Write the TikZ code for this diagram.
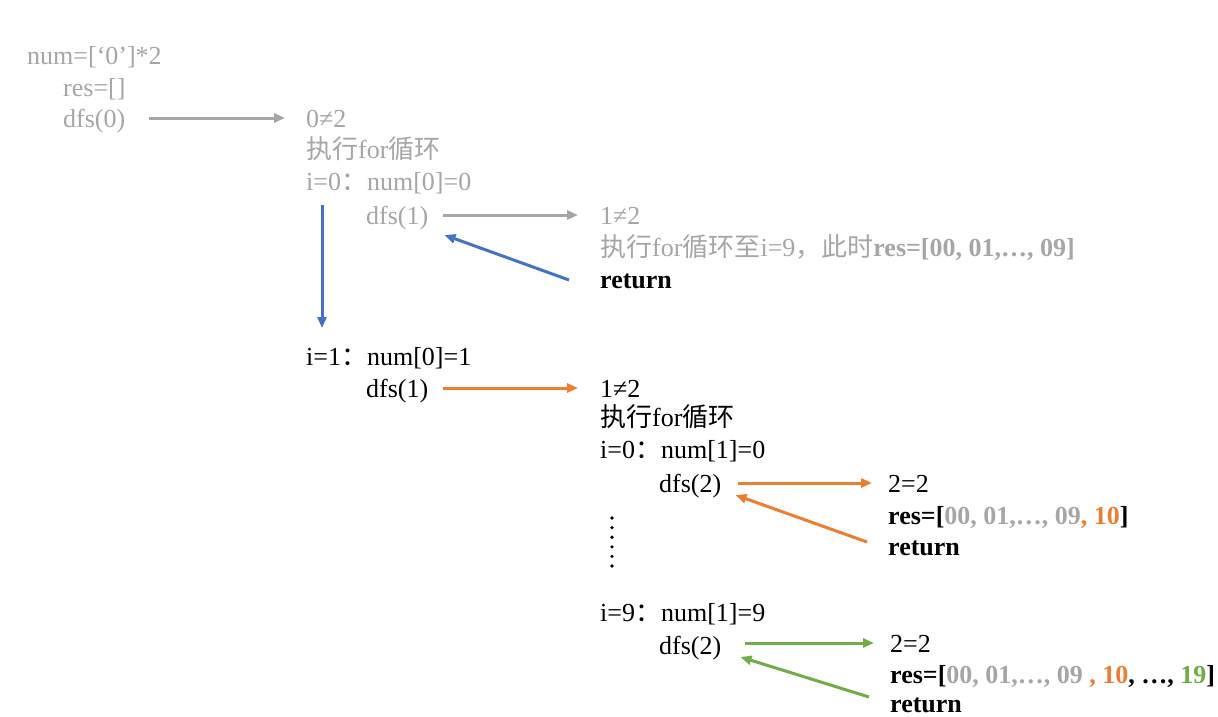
\documentclass[tikz,border=0pt]{standalone}
\usepackage{fontspec}
\setmainfont{Liberation Serif}
\newfontfamily\cjk{Noto Sans CJK SC}
\usetikzlibrary{arrows.meta}
\definecolor{tgray}{HTML}{A6A6A6}
\definecolor{tblue}{HTML}{4472C4}
\definecolor{torange}{HTML}{ED7D31}
\definecolor{tgreen}{HTML}{70AD47}
\tikzset{
  txt/.style={anchor=base west, inner sep=0pt, font=\fontsize{26}{31}\selectfont},
  gtxt/.style={txt, text=tgray},
  btxt/.style={txt, text=black},
  conn/.style={line width=3pt, -{Triangle[length=11pt,width=9pt]}},
  gconn/.style={conn, draw=tgray},
  bconn/.style={conn, draw=tblue},
  oconn/.style={conn, draw=torange},
  grconn/.style={conn, draw=tgreen},
  dotmark/.style={circle, fill=black, inner sep=0pt, minimum size=3.6pt}
}
\begin{document}
\begin{tikzpicture}[x=1pt,y=-1pt]
\useasboundingbox (0,0) rectangle (1218,716);
% first block (gray)
\node[gtxt] (n1) at (27,64) {num=[‘0’]*2};
\node[gtxt] (n2) at (63,96) {res=[]};
\node[gtxt] (d0) at (63,127) {dfs(0)};
\node[gtxt] (a1) at (306,127) {0≠2};
\node[gtxt] (a2) at (306,158) {{\cjk 执行}for{\cjk 循环}};
\node[gtxt] (a3) at (306,190) {i=0{\cjk ：}num[0]=0};
\node[gtxt] (d1a) at (366,224) {dfs(1)};
\node[gtxt] (b1) at (600,224) {1≠2};
\node[gtxt] (b2) at (600,256) {{\cjk 执行}for{\cjk 循环至}i=9{\cjk ，此时}\textbf{res=[00, 01,…, 09]}};
\node[btxt] (b3) at (600,288) {\textbf{return}};
% second block
\node[btxt] (c1) at (306,365) {i=1{\cjk ：}num[0]=1};
\node[btxt] (d1b) at (366,397) {dfs(1)};
\node[btxt] (e1) at (600,397) {1≠2};
\node[btxt] (e2) at (600,426) {{\cjk 执行}for{\cjk 循环}};
\node[btxt] (e3) at (600,458) {i=0{\cjk ：}num[1]=0};
\node[btxt] (d2a) at (659,492) {dfs(2)};
\node[btxt] (f1) at (888,492) {2=2};
\node[btxt] (f2) at (888,524) {\textbf{res=[\textcolor{tgray}{00, 01,…, 09}\textcolor{torange}{, 10}]}};
\node[btxt] (f3) at (888,555) {\textbf{return}};
% vertical dots
\foreach \k in {0,...,5} {
  \node[dotmark] (dot\k) at (612,{518+9.6*\k}) {};
}
\node[btxt] (g1) at (600,621) {i=9{\cjk ：}num[1]=9};
\node[btxt] (d2b) at (659,654) {dfs(2)};
\node[btxt] (h1) at (890,652) {2=2};
\node[btxt] (h2) at (890,683) {\textbf{res=[\textcolor{tgray}{00, 01,…, 09 }\textcolor{torange}{, 10}, …, \textcolor{tgreen}{19}]}};
\node[btxt] (h3) at (890,712) {\textbf{return}};
% connectors
\draw[gconn] ([shift={(24,-9)}]d0.base east) -- ([shift={(-21,-9)}]a1.base west);
\draw[gconn] ([shift={(15,-9)}]d1a.base east) -- ([shift={(-22,-9)}]b1.base west);
\draw[bconn] ([shift={(-31,-8)}]b3.base west) -- ([shift={(16,11)}]d1a.base east);
\draw[bconn] ([shift={(16,15)}]a3.base west) -- ([shift={(16,-37)}]c1.base west);
\draw[oconn] ([shift={(15,-9)}]d1b.base east) -- ([shift={(-22,-9)}]e1.base west);
\draw[oconn] ([shift={(16,-9)}]d2a.base east) -- ([shift={(-16,-9)}]f1.base west);
\draw[oconn] ([shift={(-21,-13)}]f3.base west) -- ([shift={(14,3)}]d2a.base east);
\draw[grconn] ([shift={(23,-11)}]d2b.base east) -- ([shift={(-16,-9)}]h1.base west);
\draw[grconn] ([shift={(-21,-15)}]h3.base west) -- ([shift={(19,3)}]d2b.base east);
\end{tikzpicture}
\end{document}
